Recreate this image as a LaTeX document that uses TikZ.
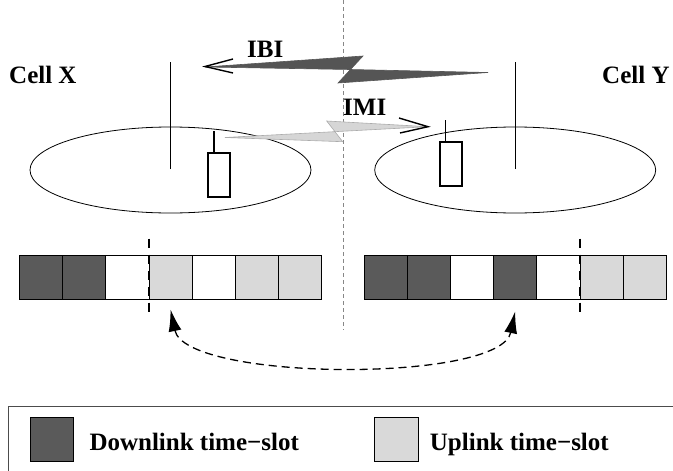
\documentclass[tikz,border=0pt]{standalone}
\usepackage{fontspec}
\setmainfont{Liberation Serif}
\usepackage{xcolor}
\usepackage{tikz}
\usetikzlibrary{calc,arrows.meta,positioning,shapes.geometric}
\definecolor{dlGray}{RGB}{90,90,90}
\definecolor{ulGray}{RGB}{217,217,217}
\definecolor{ibiGray}{RGB}{85,85,85}
\definecolor{imiGray}{RGB}{214,214,214}
\definecolor{divGray}{RGB}{135,135,135}
\tikzset{
  slot/.style={draw, line width=0.8pt, minimum width=43.2pt, minimum height=43.6pt, inner sep=0pt, outer sep=0pt},
  cellzone/.style={draw, ellipse, line width=0.8pt, minimum width=281pt, minimum height=86pt, inner sep=0pt},
  pole/.style={line width=1.4pt},
  mobile/.style={draw, line width=1.5pt, minimum width=22pt, minimum height=44pt, inner sep=0pt},
  lbl/.style={font=\bfseries\fontsize{25}{30}\selectfont, inner sep=0pt, anchor=base west},
  bolt/.style={line width=0.6pt},
  barb/.style={line width=1.4pt},
  slotcut/.style={line width=1.4pt, dash pattern=on 9pt off 7pt},
  reusearrow/.style={line width=1.3pt, dash pattern=on 8pt off 5pt, {Latex[length=22pt,width=13pt]}-{Latex[length=22pt,width=13pt]}},
}

\begin{document}
\begin{tikzpicture}[x=1pt,y=-1pt]
\path[use as bounding box, clip] (0,0) rectangle (673,471);

\draw[divGray, line width=1pt, dash pattern=on 4pt off 3pt] (343,0) -- (343,330);

\node[cellzone] (cellX) at (170.5,170) {};
\node[cellzone] (cellY) at (515.2,170) {};
\draw[pole] (170.7,169) -- (170.7,62);
\draw[pole] (515.3,169) -- (515.3,62);
\node[lbl] (cellXlbl) at (9,83) {Cell X};
\node[lbl] (cellYlbl) at (602,83) {Cell Y};

\node[mobile] (mobX) at (219,175) {};
\node[mobile] (mobY) at (450.8,164) {};
\draw[pole] ([xshift=-5pt]mobX.north) -- ++(0,-21);
\draw[pole] ([xshift=-5.5pt]mobY.north) -- ++(0,-21);

\filldraw[bolt, fill=ibiGray, draw=ibiGray] (205,67) -- (363,56) -- (338,83) -- (488,72.5) -- (350,69.5) -- cycle;
\draw[barb] (233,59) -- (205,66.5) -- (233,73);
\node[lbl] (ibi) at (247,57) {IBI};

\filldraw[bolt, fill=imiGray, draw=imiGray!80!black] (225,137.5) -- (342.7,141.7) -- (326.7,121) -- (428,126.7) -- (338,131.5) -- cycle;
\draw[barb] (399,118) -- (428,126.7) -- (400,133);
\node[lbl] (imi) at (343,115) {IMI};

\foreach \c [count=\i] in {dlGray,dlGray,white,ulGray,white,ulGray,ulGray}
  \node[slot, fill=\c] (x\i) at ({19.3+43.2*(\i-0.5)},277.5) {};
\foreach \c [count=\i] in {dlGray,dlGray,white,dlGray,white,ulGray,ulGray}
  \node[slot, fill=\c] (y\i) at ({364+43.2*(\i-0.5)},277.5) {};

\draw[slotcut] ([yshift=17pt]x4.north west) -- ([yshift=-16pt]x4.south west);
\draw[slotcut] ([yshift=17pt]y6.north west) -- ([yshift=-16pt]y6.south west);

\draw[reusearrow] ([yshift=-10pt]x4.south) .. controls +(15,72) and +(-15,72) .. ([yshift=-12pt]y4.south);

\draw[black!70, line width=1pt] (8.3,406.7) rectangle (700,500);
\node[slot, fill=dlGray] (keyDl) at (52,439.2) {};
\node[slot, fill=ulGray] (keyUl) at (396.3,439.2) {};
\node[lbl] (keyDlText) at (89.3,450) {Downlink time−slot};
\node[lbl] (keyUlText) at (429.7,450) {Uplink time−slot};
\end{tikzpicture}
\end{document}
